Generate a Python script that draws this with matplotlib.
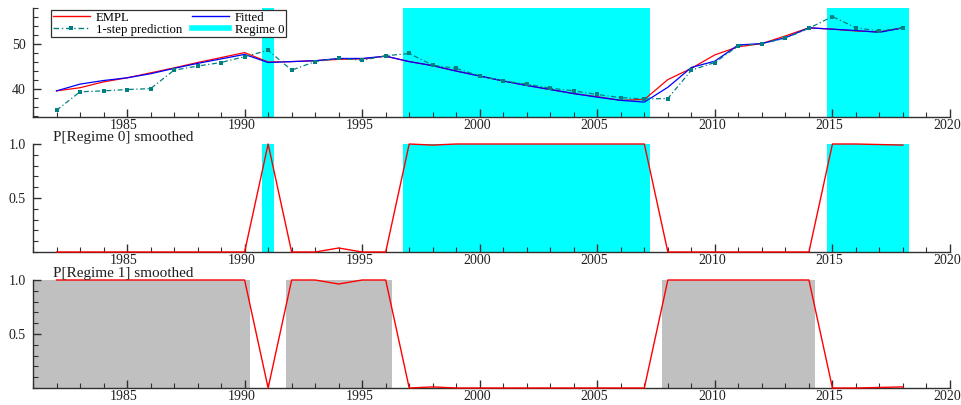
import numpy as np
import matplotlib
matplotlib.use("Agg")
import matplotlib.pyplot as plt
import matplotlib.transforms as mtransforms
from matplotlib.ticker import MultipleLocator, FixedLocator
from matplotlib.lines import Line2D

plt.rcParams['font.family'] = ['Liberation Serif', 'DejaVu Serif']

# --- data ---
years = np.arange(1982, 2019)
empl = [39.6, 40.3, 41.6, 42.5, 43.6, 44.7, 45.9, 47.0, 48.1, 46.0,
        46.1, 46.3, 46.6, 46.7, 47.3, 46.1, 45.2, 44.0, 42.9, 41.8,
        40.8, 39.9, 39.0, 38.3, 37.5, 37.7, 42.1, 44.6, 47.6, 49.4,
        50.1, 51.8, 53.6, 53.3, 52.9, 52.7, 53.6]
fitted = [39.6, 41.1, 41.9, 42.5, 43.4, 44.6, 45.7, 46.7, 47.7, 45.9,
          46.1, 46.3, 46.8, 46.8, 47.3, 46.1, 45.2, 44.0, 42.9, 41.8,
          40.8, 39.9, 39.0, 38.2, 37.5, 37.1, 40.4, 44.8, 46.2, 49.8,
          50.1, 51.4, 53.6, 53.3, 53.0, 52.6, 53.6]
pred = [35.3, 39.4, 39.6, 39.9, 40.1, 44.2, 45.1, 45.9, 47.2, 48.6,
        44.2, 46.1, 46.8, 46.4, 47.4, 47.9, 45.3, 44.6, 42.9, 41.8,
        41.1, 40.2, 39.6, 38.8, 38.1, 37.8, 37.9, 44.2, 45.9, 49.6,
        50.1, 51.3, 53.5, 56.1, 53.6, 52.9, 53.6]
p_regime0 = [0, 0, 0, 0, 0, 0, 0, 0, 0, 1.0,
             0, 0, 0.037, 0, 0, 1.0, 0.99, 1.0, 1.0, 1.0,
             1.0, 1.0, 1.0, 1.0, 1.0, 1.0, 0, 0, 0, 0,
             0, 0, 0, 1.0, 1.0, 0.995, 0.99]
p_regime1 = [1 - p for p in p_regime0]

# periods classified to each regime (first, last year)
regime0_periods = [(1991, 1991), (1997, 2007), (2015, 2018)]
regime1_periods = [(1981, 1990), (1992, 1996), (2008, 2014)]

cyan = '#00ffff'
grey = '#c0c0c0'
teal = '#008080'
ink = '#303030'

fig = plt.figure(figsize=(9.62, 4.05), dpi=100)
left, width = 33 / 962, 917 / 962
ax1 = fig.add_axes([left, 1 - 117 / 405, width, 109 / 405])
ax2 = fig.add_axes([left, 1 - 252 / 405, width, 108 / 405])
ax3 = fig.add_axes([left, 1 - 388 / 405, width, 108 / 405])

shift = mtransforms.ScaledTranslation(-3 / 100, 0, fig.dpi_scale_trans)


def style(ax):
    ax.set_xlim(1981, 2020)
    ax.spines['top'].set_visible(False)
    ax.spines['right'].set_visible(False)
    for s in ('left', 'bottom'):
        ax.spines[s].set_color(ink)
        ax.spines[s].set_linewidth(1.0)
    ax.set_xticks(range(1985, 2021, 5))
    ax.xaxis.set_minor_locator(MultipleLocator(1))
    ax.tick_params(which='major', direction='in', length=6, width=1,
                   labelsize=10, colors=ink, labelcolor='#202020')
    ax.tick_params(axis='x', which='major', pad=1.5)
    ax.tick_params(axis='y', which='major', pad=5)
    ax.tick_params(which='minor', direction='in', length=3.5, width=0.8,
                   colors=ink)
    for lbl in ax.get_xticklabels():
        lbl.set_transform(lbl.get_transform() + shift)


def prob_axis(ax, title):
    ax.set_ylim(0, 1)
    ax.yaxis.set_major_locator(FixedLocator([0.5, 1.0]))
    ax.yaxis.set_major_formatter(plt.FormatStrFormatter('%.1f'))
    ax.yaxis.set_minor_locator(MultipleLocator(0.1))
    ax.text(0.022, 1.028, title, transform=ax.transAxes, fontsize=11,
            va='baseline', ha='left', color='#202020')


# --- top panel ---
style(ax1)
for a, b in regime0_periods:
    ax1.axvspan(a - 0.25, b + 0.25, color=cyan, lw=0, zorder=0)
ax1.plot(years, empl, color='red', lw=0.9, zorder=2)
ax1.plot(years, fitted, color='blue', lw=0.9, zorder=3)
ax1.plot(years, pred, color=teal, lw=0.9, ls=(0, (4, 2, 1, 2)),
         marker='s', ms=2.5, mew=0, zorder=4)
ax1.set_ylim(33.8, 58)
ax1.yaxis.set_major_locator(FixedLocator([40, 50]))
ax1.yaxis.set_minor_locator(MultipleLocator(2))

handles = [Line2D([], [], color='red', lw=1),
           Line2D([], [], color=teal, lw=1, ls=(0, (4, 2, 1, 2)),
                  marker='s', ms=2.5, mew=0),
           Line2D([], [], color='blue', lw=1),
           Line2D([], [], color=cyan, lw=4)]
labels = ['EMPL', '1-step prediction', 'Fitted', 'Regime 0']
leg = ax1.legend(handles, labels, ncol=2, loc='upper left',
                 bbox_to_anchor=(0.0195, 0.985), fontsize=9.2,
                 handlelength=2.9, handletextpad=0.45, labelspacing=0.0,
                 columnspacing=0.8, borderpad=0.15, borderaxespad=0,
                 fancybox=False, framealpha=1, edgecolor=ink)
leg.get_frame().set_linewidth(0.9)

# --- regime 0 probabilities ---
style(ax2)
for a, b in regime0_periods:
    ax2.axvspan(a - 0.25, b + 0.25, color=cyan, lw=0, zorder=0)
ax2.plot(years, p_regime0, color='red', lw=1, zorder=3, clip_on=False)
prob_axis(ax2, 'P[Regime 0] smoothed')

# --- regime 1 probabilities ---
style(ax3)
for a, b in regime1_periods:
    ax3.axvspan(max(a - 0.25, 1981), b + 0.25, color=grey, lw=0, zorder=0)
ax3.plot(years, p_regime1, color='red', lw=1, zorder=3, clip_on=False)
prob_axis(ax3, 'P[Regime 1] smoothed')

fig.savefig('out.png', dpi=100)
